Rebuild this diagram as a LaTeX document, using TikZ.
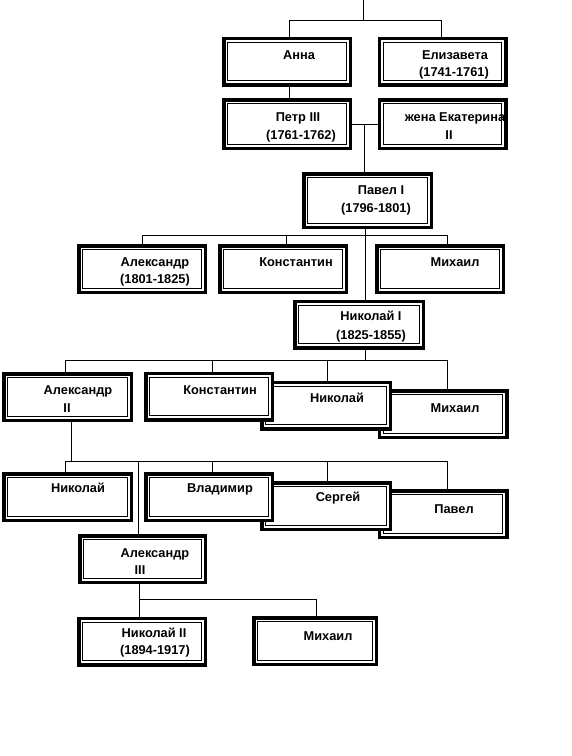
\documentclass[tikz,border=0pt]{standalone}
\usepackage{fontspec}
\setmainfont{Liberation Sans}
\usetikzlibrary{backgrounds}

\tikzset{
  famBox/.style={draw, fill=white, line width=3.5pt, inner sep=0pt,
    minimum width=126.5pt, minimum height=46.5pt,
    path picture={\draw[line width=1pt]
      ([shift={(3.8pt,-3.8pt)}]path picture bounding box.north west) rectangle
      ([shift={(-3.8pt,3.8pt)}]path picture bounding box.south east);}},
  famText/.style={inner sep=0pt, text height=9.2pt, text depth=0pt,
    font=\fontsize{12.8}{15}\selectfont\bfseries},
  famLine/.style={line width=1pt}
}

\begin{document}
\begin{tikzpicture}[x=1pt, y=-1pt]
  \useasboundingbox (0,0) rectangle (572,756);
  % Anna and Elizaveta
  \node[famBox] (anna) at (287,61.5) {};
  \node[famText] (annaT) at (299,55) {Анна};
  \node[famBox] (eliz) at (442.5,61.5) {};
  \node[famText] (elizT) at (455,55) {Елизавета};
  \node[famText] (elizTb) at (454,72) {(1741-1761)};
  % Petr III and Ekaterina II
  \node[famBox, minimum height=48.5pt] (petr) at (287,124) {};
  \node[famText] (petrT) at (298,117) {Петр III};
  \node[famText] (petrTb) at (301,135) {(1761-1762)};
  \node[famBox, minimum height=48.5pt] (ekat) at (442.5,124) {};
  \node[famText] (ekatT) at (455,117) {жена Екатерина};
  \node[famText] (ekatTb) at (449,135) {II};
  % Pavel I
  \node[famBox, minimum width=127.5pt, minimum height=53.5pt] (pavel) at (367.5,200.5) {};
  \node[famText] (pavelT) at (381,190) {Павел I};
  \node[famText] (pavelTb) at (376,208) {(1796-1801)};
  % sons of Pavel I
  \node[famBox] (alexA) at (142,269) {};
  \node[famText] (alexAT) at (155,262) {Александр};
  \node[famText] (alexATb) at (155,279) {(1801-1825)};
  \node[famBox] (konstA) at (283,269) {};
  \node[famText] (konstAT) at (296,262) {Константин};
  \node[famBox] (mikhA) at (440,269) {};
  \node[famText] (mikhAT) at (455,262) {Михаил};
  % Nikolai I
  \node[famBox, minimum width=128.5pt] (nikA) at (359,324.5) {};
  \node[famText] (nikAT) at (371,316) {Николай I};
  \node[famText] (nikATb) at (371,335) {(1825-1855)};
  % sons of Nikolai I
  \node[famBox, minimum width=127.5pt] (mikhB) at (443,414) {};
  \node[famText] (mikhBT) at (455,408) {Михаил};
  \node[famBox, minimum width=128.5pt] (nikolB) at (326,405.5) {};
  \node[famText] (nikolBT) at (337,398) {Николай};
  \node[famBox] (konstB) at (209,396.5) {};
  \node[famText] (konstBT) at (220,390) {Константин};
  \node[famBox, minimum width=127.5pt] (alexB) at (67.5,397) {};
  \node[famText] (alexBT) at (78,390) {Александр};
  \node[famText] (alexBTb) at (67,408) {II};
  % sons of Alexandr II
  \node[famBox, minimum width=127.5pt] (pavelC) at (443,514) {};
  \node[famText] (pavelCT) at (454,509) {Павел};
  \node[famBox, minimum width=128.5pt] (sergC) at (326,506) {};
  \node[famText] (sergCT) at (338,497) {Сергей};
  \node[famBox] (vladC) at (209,497) {};
  \node[famText] (vladCT) at (220,488) {Владимир};
  \node[famBox, minimum width=127.5pt] (nikolC) at (67.5,497) {};
  \node[famText] (nikolCT) at (78,488) {Николай};
  \node[famBox, minimum width=125.5pt] (alexC) at (142.5,559) {};
  \node[famText] (alexCT) at (155,553) {Александр};
  \node[famText] (alexCTb) at (140,570) {III};
  % sons of Alexandr III
  \node[famBox] (nikD) at (142,641.5) {};
  \node[famText] (nikDT) at (154,633) {Николай II};
  \node[famText] (nikDTb) at (155,650) {(1894-1917)};
  \node[famBox, minimum width=122.5pt] (mikhD) at (315,641) {};
  \node[famText] (mikhDT) at (328,636) {Михаил};
  % connectors
  \begin{scope}[on background layer, famLine]
    \coordinate (topEnd) at (363,0);
    \coordinate (topBus) at (363,20);
    \draw (topEnd) -- (topBus);
    \draw (topBus) -| ([xshift=2pt]anna.north);
    \draw (topBus) -| ([xshift=-1.5pt]eliz.north);
    \draw ([xshift=2pt]anna.south) -- ([xshift=2pt]petr.north);
    \draw (petr.east) -- (ekat.west);
    \coordinate (marry) at (364,124);
    \draw (marry) -- (marry |- pavel.north);
    % Pavel I
    \coordinate (pavelBus) at (365,235);
    \draw (pavelBus |- pavel.south) -- (pavelBus |- nikA.north);
    \draw (pavelBus) -| (alexA.north);
    \draw (pavelBus) -| ([xshift=3pt]konstA.north);
    \draw (pavelBus) -| ([xshift=7pt]mikhA.north);
    % Nikolai I
    \coordinate (nikBus) at (365,360);
    \draw (nikBus |- nikA.south) -- (nikBus);
    \draw (nikBus) -| ([xshift=-2.5pt]alexB.north);
    \draw (nikBus) -| ([xshift=3pt]konstB.north);
    \draw (nikBus) -| ([xshift=1pt]nikolB.north);
    \draw (nikBus) -| ([xshift=4pt]mikhB.north);
    % Alexandr II
    \coordinate (alexBus) at (71,461);
    \draw (alexBus |- alexB.south) -- (alexBus);
    \draw (alexBus) -| ([xshift=-2.5pt]nikolC.north);
    \draw (alexBus) -| ([xshift=-4.5pt]alexC.north);
    \draw (alexBus) -| ([xshift=3pt]vladC.north);
    \draw (alexBus) -| ([xshift=1pt]sergC.north);
    \draw (alexBus) -| ([xshift=4pt]pavelC.north);
    % Alexandr III
    \coordinate (alexDBus) at (139,599);
    \draw (alexDBus |- alexC.south) -- (alexDBus |- nikD.north);
    \draw (alexDBus) -| ([xshift=1pt]mikhD.north);
  \end{scope}
\end{tikzpicture}
\end{document}
